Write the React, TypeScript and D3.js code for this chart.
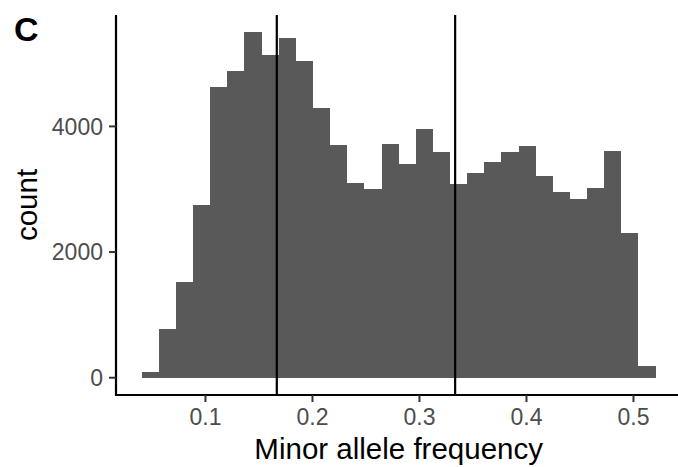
import React from "react";
import * as d3 from "d3";

// Histogram of minor allele frequency (30 bins)
const binStart = 0.0404;
const binWidth = 0.01601;
const counts = [
  90, 780, 1520, 2755, 4634, 4882, 5498, 5143, 5403, 5048,
  4288, 3710, 3105, 3010, 3720, 3408, 3954, 3599, 3078, 3264,
  3433, 3588, 3683, 3205, 2951, 2839, 3024, 3615, 2298, 191,
];
const xTicks = [0.1, 0.2, 0.3, 0.4, 0.5];
const yTicks = [0, 2000, 4000];
const vLines = [1 / 6, 1 / 3];
const xLabel = "Minor allele frequency";
const yLabel = "count";
const tag = "C";

export default function App() {
  const W = 678;
  const H = 467;
  const left = 116;
  const top = 15;
  const bottom = 395;
  const pxPerUnit = 1070;

  const bins = counts.map((c, i) => ({
    x0: binStart + i * binWidth,
    x1: binStart + (i + 1) * binWidth,
    count: c,
  }));
  const xmin = binStart;
  const xmax = binStart + counts.length * binWidth;
  const xpad = (xmax - xmin) * 0.05;
  const xDom: [number, number] = [xmin - xpad, xmax + xpad];
  const x = d3
    .scaleLinear()
    .domain(xDom)
    .range([left, left + (xDom[1] - xDom[0]) * pxPerUnit]);
  const ymax = d3.max(counts) as number;
  const y = d3
    .scaleLinear()
    .domain([-0.05 * ymax, ymax * 1.05])
    .range([bottom, top]);

  const font = "'Liberation Sans', Arial, Helvetica, sans-serif";
  const tickLen = 7;
  const fill = "#595959";

  return (
    <svg
      width={W}
      height={H}
      style={{ position: "absolute", left: 0, top: 0, background: "#fff" }}
    >
      <rect width={W} height={H} fill="#fff" />
      {bins.map((b, i) => (
        <rect
          key={i}
          x={x(b.x0)}
          y={y(b.count)}
          width={x(b.x1) - x(b.x0)}
          height={y(0) - y(b.count)}
          fill={fill}
          shapeRendering="crispEdges"
        />
      ))}
      {vLines.map((v, i) => (
        <line
          key={i}
          x1={x(v)}
          x2={x(v)}
          y1={top}
          y2={bottom}
          stroke="#000"
          strokeWidth={2.2}
        />
      ))}
      {/* axes */}
      <line x1={left} x2={left} y1={top} y2={bottom + 1} stroke="#000" strokeWidth={2.2} />
      <line x1={left - 1} x2={W} y1={bottom} y2={bottom} stroke="#000" strokeWidth={2.2} />
      {yTicks.map((t) => (
        <g key={t}>
          <line x1={left - tickLen} x2={left} y1={y(t)} y2={y(t)} stroke="#333" strokeWidth={2} />
          <text
            x={left - tickLen - 6}
            y={y(t)}
            dy="0.36em"
            textAnchor="end"
            fontFamily={font}
            fontSize={23}
            fill="#4D4D4D"
          >
            {t}
          </text>
        </g>
      ))}
      {xTicks.map((t) => (
        <g key={t}>
          <line x1={x(t)} x2={x(t)} y1={bottom} y2={bottom + tickLen} stroke="#333" strokeWidth={2} />
          <text
            x={x(t)}
            y={bottom + tickLen + 6 + 17}
            textAnchor="middle"
            fontFamily={font}
            fontSize={23}
            fill="#4D4D4D"
          >
            {t}
          </text>
        </g>
      ))}
      <text
        x={(x.range()[0] + x.range()[1]) / 2}
        y={458.5}
        textAnchor="middle"
        fontFamily={font}
        fontSize={29.5}
        fill="#000"
      >
        {xLabel}
      </text>
      <text
        transform={`translate(37, ${(top + bottom) / 2}) rotate(-90)`}
        textAnchor="middle"
        fontFamily={font}
        fontSize={29.5}
        fill="#000"
      >
        {yLabel}
      </text>
      <text x={14} y={41} fontFamily={font} fontSize={34} fontWeight="bold" fill="#000">
        {tag}
      </text>
    </svg>
  );
}
